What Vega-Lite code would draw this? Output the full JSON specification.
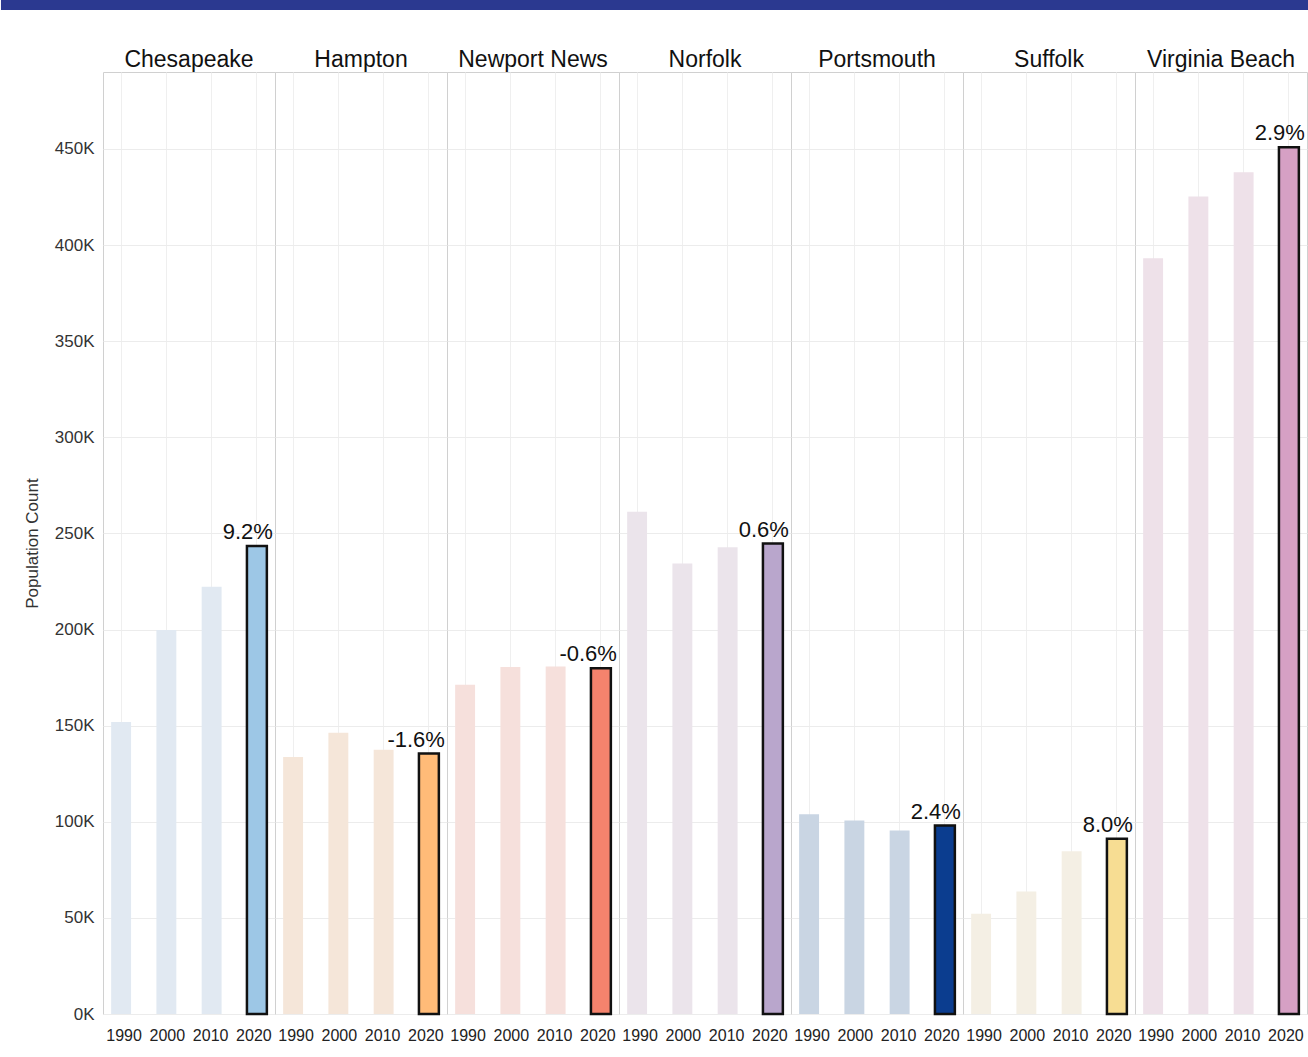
{
  "$schema": "https://vega.github.io/schema/vega-lite/v6.json",
  "padding": {"left": 0, "top": 0, "right": 0, "bottom": 0},
  "background": "white",
  "config": {"font": "Liberation Sans", "view": {"stroke": "#d0d0d0"}},
  "columns": 1,
  "align": "none",
  "spacing": 39,
  "concat": [
    {
      "width": 1206,
      "height": 10,
      "data": {"values": [{"band": "header", "from": 0, "to": 1}]},
      "view": {"stroke": null},
      "mark": {"type": "rect", "color": "#2b3990", "clip": false},
      "encoding": {
        "x": {"field": "from", "type": "quantitative", "scale": {"domain": [0.078, 1], "nice": false, "zero": false}, "axis": null},
        "x2": {"field": "to"}
      }
    },
    {
      "data": {"values": [
        {"city": "Chesapeake", "year": "1990", "population": 151900},
        {"city": "Chesapeake", "year": "2000", "population": 199800},
        {"city": "Chesapeake", "year": "2010", "population": 222200},
        {"city": "Chesapeake", "year": "2020", "population": 243500, "change": "9.2%"},
        {"city": "Hampton", "year": "1990", "population": 133700},
        {"city": "Hampton", "year": "2000", "population": 146300},
        {"city": "Hampton", "year": "2010", "population": 137400},
        {"city": "Hampton", "year": "2020", "population": 135500, "change": "-1.6%"},
        {"city": "Newport News", "year": "1990", "population": 171300},
        {"city": "Newport News", "year": "2000", "population": 180500},
        {"city": "Newport News", "year": "2010", "population": 180700},
        {"city": "Newport News", "year": "2020", "population": 179800, "change": "-0.6%"},
        {"city": "Norfolk", "year": "1990", "population": 261200},
        {"city": "Norfolk", "year": "2000", "population": 234400},
        {"city": "Norfolk", "year": "2010", "population": 242800},
        {"city": "Norfolk", "year": "2020", "population": 244700, "change": "0.6%"},
        {"city": "Portsmouth", "year": "1990", "population": 103900},
        {"city": "Portsmouth", "year": "2000", "population": 100600},
        {"city": "Portsmouth", "year": "2010", "population": 95500},
        {"city": "Portsmouth", "year": "2020", "population": 98000, "change": "2.4%"},
        {"city": "Suffolk", "year": "1990", "population": 52100},
        {"city": "Suffolk", "year": "2000", "population": 63700},
        {"city": "Suffolk", "year": "2010", "population": 84600},
        {"city": "Suffolk", "year": "2020", "population": 91200, "change": "8.0%"},
        {"city": "Virginia Beach", "year": "1990", "population": 393100},
        {"city": "Virginia Beach", "year": "2000", "population": 425300},
        {"city": "Virginia Beach", "year": "2010", "population": 437900},
        {"city": "Virginia Beach", "year": "2020", "population": 450800, "change": "2.9%"}
      ]},
      "spacing": 0,
      "bounds": "flush",
      "facet": {
        "column": {
          "field": "city", "type": "nominal",
          "header": {"title": null, "labelFontSize": 23, "labelColor": "#111111", "labelPadding": 0, "labelFont": "Liberation Sans"}
        }
      },
      "spec": {
        "width": 172,
        "height": 942,
        "encoding": {
          "x": {
            "field": "year", "type": "ordinal", "sort": ["1990", "2000", "2010", "2020"],
            "scale": {"paddingInner": 0.56, "paddingOuter": 0.18},
            "axis": {"title": null, "labelAngle": 0, "labelFontSize": 16, "labelColor": "#222222", "domain": false, "ticks": false, "labelPadding": 13,
                     "labelOffset": {"expr": "datum.value == '1990' ? 3 : datum.value == '2000' ? 1 : datum.value == '2010' ? -1 : -3"},
                     "grid": true, "gridColor": "#efefef"}
          },
          "y": {
            "field": "population", "type": "quantitative",
            "scale": {"domain": [0, 490000], "nice": false},
            "axis": {"title": "Population Count", "titleFontSize": 17, "titleFontWeight": "normal", "titleColor": "#333333", "titlePadding": 13,
                     "values": [0, 50000, 100000, 150000, 200000, 250000, 300000, 350000, 400000, 450000],
                     "labelExpr": "datum.value / 1000 + 'K'", "labelFontSize": 17, "labelColor": "#333333", "labelPadding": 9,
                     "domain": false, "ticks": false, "grid": true, "gridColor": "#ececec"}
          }
        },
        "layer": [
          {
            "transform": [{"filter": "datum.year != '2020'"}],
            "mark": {"type": "bar"},
            "encoding": {
              "color": {"field": "city", "type": "nominal", "legend": null,
                        "scale": {"domain": ["Chesapeake", "Hampton", "Newport News", "Norfolk", "Portsmouth", "Suffolk", "Virginia Beach"],
                                  "range": ["#e1e9f2", "#f5e6d9", "#f6e0dc", "#ebe4eb", "#c9d5e3", "#f4efe4", "#eee1e9"]}}
            }
          },
          {
            "transform": [{"filter": "datum.year == '2020'"}],
            "mark": {"type": "bar", "stroke": "#111111", "strokeWidth": 2.5},
            "encoding": {
              "color": {"field": "city", "type": "nominal", "legend": null,
                        "scale": {"domain": ["Chesapeake", "Hampton", "Newport News", "Norfolk", "Portsmouth", "Suffolk", "Virginia Beach"],
                                  "range": ["#9dc7e6", "#ffbb78", "#f5836d", "#b9a6cc", "#0b3d8f", "#f7dd93", "#d6a0c4"]}}
            }
          },
          {
            "transform": [{"filter": "datum.year == '2020'"}],
            "mark": {"type": "text", "align": "right", "baseline": "alphabetic", "dx": 16, "dy": -7, "fontSize": 22, "color": "#111111"},
            "encoding": {"text": {"field": "change", "type": "nominal"}}
          }
        ],
        "resolve": {"scale": {"color": "independent"}}
      }
    }
  ]
}
